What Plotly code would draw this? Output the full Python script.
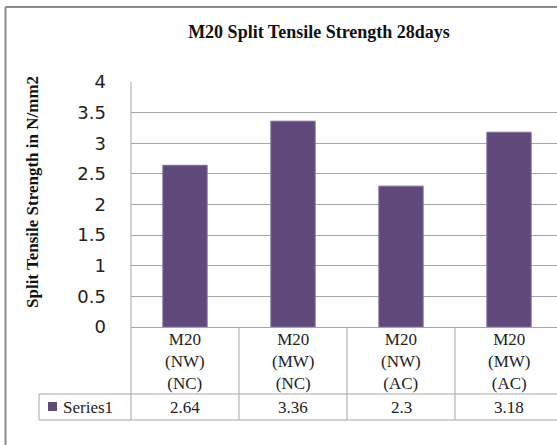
import plotly.graph_objects as go

# ---- data ----
categories = ["M20<br>(NW)<br>(NC)", "M20<br>(MW)<br>(NC)", "M20<br>(NW)<br>(AC)", "M20<br>(MW)<br>(AC)"]
values = [2.64, 3.36, 2.3, 3.18]
value_labels = ["2.64", "3.36", "2.3", "3.18"]
series_name = "Series1"
y_tick_vals = [0, 0.5, 1, 1.5, 2, 2.5, 3, 3.5, 4]
y_tick_text = ["0", "0.5", "1", "1.5", "2", "2.5", "3", "3.5", "4"]
title_text = "M20 Split Tensile Strength 28days"
y_title = "Split Tensile Strength in N/mm2"

# ---- layout geometry ----
W, H = 557, 445
L, T, B = 131, 82, 118
PW = W - L
PH = H - T - B
SLOT = 108.0
x_hi = -0.5 + PW / SLOT

def px_x(p):
    return (p - L) / PW

def px_y(p):
    return (H - B - p) / PH

BAR = "#604A7B"
GRID = "#A6A6A6"
SERIF = "Liberation Serif"
SANS = "DejaVu Sans"

idx = list(range(len(values)))

fig = go.Figure()
fig.add_trace(go.Bar(
    x=idx, y=values, name=series_name, width=0.41,
    marker=dict(color=BAR, line=dict(color="#7E6A98", width=1)),
    showlegend=False,
))

shapes = []
# outer chart border (left + top visible)
shapes.append(dict(type="line", xref="paper", yref="paper",
                   x0=px_x(5.5), x1=px_x(5.5), y0=px_y(H), y1=px_y(7),
                   line=dict(color="#8C8C8C", width=2)))
shapes.append(dict(type="line", xref="paper", yref="paper",
                   x0=px_x(5.5), x1=1, y0=px_y(7), y1=px_y(7),
                   line=dict(color="#8C8C8C", width=2)))
# plot left border extended through table
shapes.append(dict(type="line", xref="paper", yref="paper", x0=0, x1=0,
                   y0=1, y1=px_y(420), line=dict(color=GRID, width=1)))
# column separators in table
for i in idx[:-1]:
    xp = (i + 1) / (x_hi + 0.5)
    shapes.append(dict(type="line", xref="paper", yref="paper", x0=xp, x1=xp,
                       y0=0, y1=px_y(420), line=dict(color=GRID, width=1)))
# horizontal table lines
for yy in (394, 420):
    shapes.append(dict(type="line", xref="paper", yref="paper", x0=px_x(39), x1=1,
                       y0=px_y(yy), y1=px_y(yy), line=dict(color=GRID, width=1)))
# series label cell left edge
shapes.append(dict(type="line", xref="paper", yref="paper", x0=px_x(39), x1=px_x(39),
                   y0=px_y(394), y1=px_y(420), line=dict(color=GRID, width=1)))
# legend key square
shapes.append(dict(type="rect", xref="paper", yref="paper", x0=px_x(48), x1=px_x(57),
                   y0=px_y(411), y1=px_y(402), line=dict(width=0), fillcolor=BAR))

annotations = []
for i, (c, v) in enumerate(zip(categories, value_labels)):
    annotations.append(dict(x=i, xref="x", y=px_y(361), yref="paper", text=c, showarrow=False,
                            xanchor="center", yanchor="middle", align="center",
                            font=dict(family=SERIF, size=17, color="#222")))
    annotations.append(dict(x=i, xref="x", y=px_y(407.5), yref="paper", text=v, showarrow=False,
                            xanchor="center", yanchor="middle",
                            font=dict(family=SERIF, size=17, color="#222")))
annotations.append(dict(x=px_x(61), xref="paper", y=px_y(407.5), yref="paper", text=series_name,
                        showarrow=False, xanchor="left", yanchor="middle",
                        font=dict(family=SERIF, size=17, color="#222")))
annotations.append(dict(x=px_x(32), xref="paper", y=px_y(192), yref="paper",
                        text="<b>" + y_title + "</b>", textangle=-90, showarrow=False,
                        xanchor="center", yanchor="middle",
                        font=dict(family=SERIF, size=17, color="#111")))

fig.update_layout(
    width=W, height=H,
    margin=dict(l=L, r=0, t=T, b=B, pad=0),
    paper_bgcolor="white", plot_bgcolor="white",
    title=dict(text="<b>" + title_text + "</b>", x=319 / W, xref="container", xanchor="center",
               y=1 - 32 / H, yref="container", yanchor="middle",
               font=dict(family=SERIF, size=18, color="#111")),
    xaxis=dict(range=[-0.5, x_hi], showticklabels=False, showgrid=False, zeroline=False,
               showline=False, ticks=""),
    yaxis=dict(range=[0, 4], tickvals=y_tick_vals, ticktext=y_tick_text, showgrid=True,
               gridcolor=GRID, gridwidth=1, zeroline=True, zerolinecolor=GRID, zerolinewidth=1,
               showline=False, ticks="", ticklabelstandoff=24,
               tickfont=dict(family=SANS, size=18, color="#222")),
    shapes=shapes, annotations=annotations,
    bargap=0.59, showlegend=False,
)

fig.write_html("out.html", config={"displayModeBar": False},
               post_script=("document.documentElement.style.overflow='hidden';"
                            "document.body.style.margin='0';"
                            "document.body.style.overflow='hidden';"))
